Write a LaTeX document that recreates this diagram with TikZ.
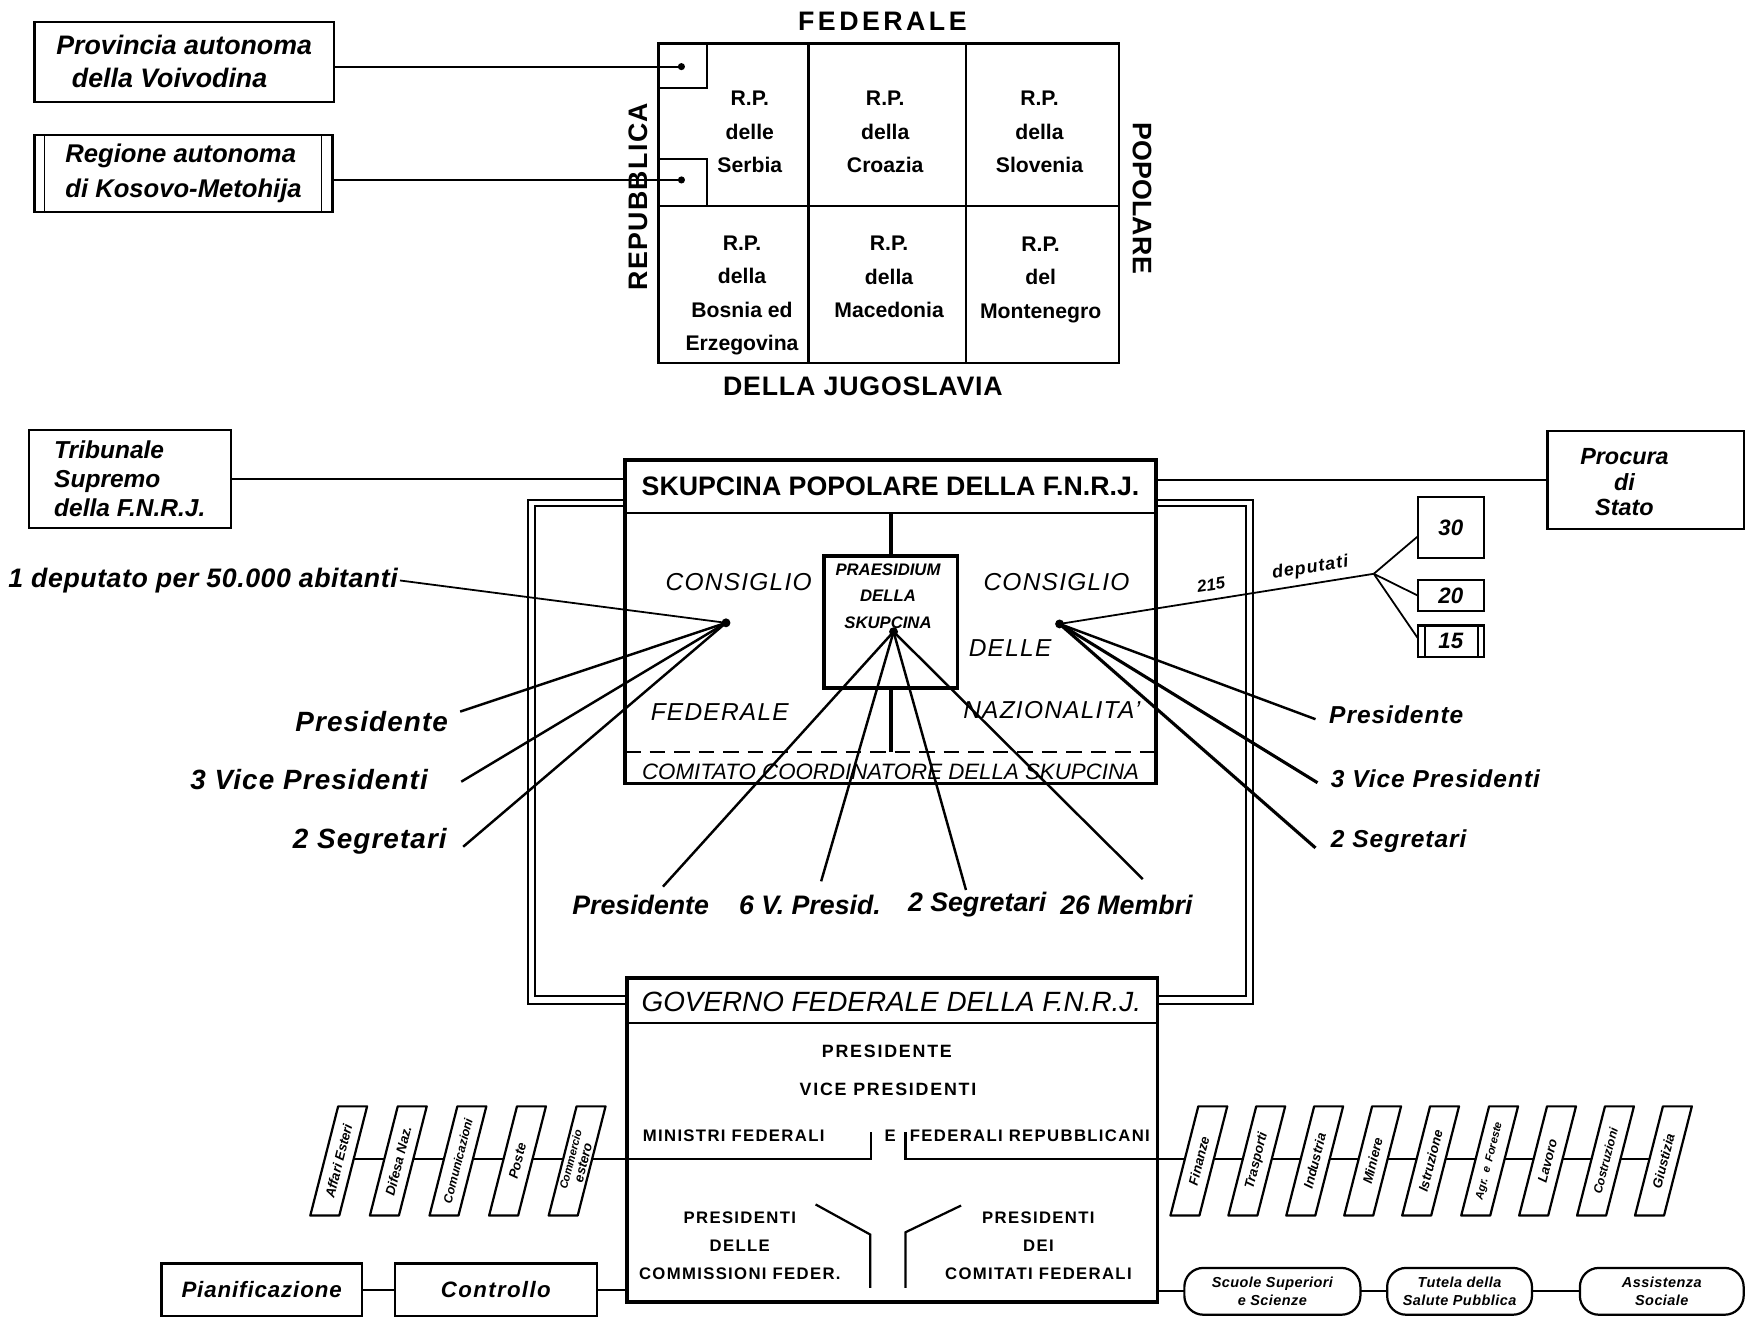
\documentclass[tikz,border=0pt]{standalone}
\usepackage{fontspec}
\setmainfont{Liberation Sans}
\usetikzlibrary{calc,backgrounds}
\newcommand{\fsz}[2]{\fontsize{#1pt}{#2pt}\selectfont}
\newcommand{\slbox}[4]{%
  \draw[sbox] (#2-25.5,#3+49) -- (#2+0.5,#3+49) -- (#2+25.5,#3-49) -- (#2-0.5,#3-49) -- cycle;
  \node[stxt] (#1) at (#2,#3) {#4};}
\begin{document}
\begin{tikzpicture}[x=1pt,y=-1pt,
  every node/.style={inner sep=0pt,outer sep=0pt},
  boxa/.style={draw,line width=2pt,fill=white},
  mainbox/.style={draw,line width=3pt},
  gridl/.style={line width=2pt},
  thinl/.style={line width=1.6pt},
  conn/.style={line width=1.6pt},
  mline/.style={line width=2.2pt},
  frame/.style={line width=1.8pt},
  sbox/.style={draw,line width=2pt,fill=white,line join=round},
  stxt/.style={rotate=75.7,align=center,font={\fsz{12}{12}\bfseries\itshape}},
  capbig/.style={font={\fsz{24}{28}\bfseries}},
  cellt/.style={align=center,font={\fsz{19}{30}\bfseries}},
  hand/.style={font={\fsz{24}{30}\bfseries\itshape}},
  lab/.style={font={\fsz{25}{30}\bfseries\itshape\addfontfeature{LetterSpace=4}}},
  labr/.style={font={\fsz{22}{26}\bfseries\itshape\addfontfeature{LetterSpace=4}}},
  labb/.style={font={\fsz{24}{28}\bfseries\itshape}},
  cons/.style={font={\fsz{22}{26}\itshape\addfontfeature{LetterSpace=5}}},
  gcap/.style={font={\fsz{15}{25}\bfseries\addfontfeature{LetterSpace=8}},align=center},
  oval/.style={draw,line width=2pt,rounded corners=17pt,align=center,fill=white,
    font={\fsz{13}{16}\bfseries\itshape\addfontfeature{LetterSpace=3}}},
  dot/.style={fill=black}
]
\useasboundingbox (0,0) rectangle (1568,1183);
\begin{scope}[on background layer]
  \fill[white] (0,0) rectangle (1568,1183);
\end{scope}

% ---------------- top: federal grid ----------------
\node[capbig,font={\fsz{24}{28}\bfseries\addfontfeature{LetterSpace=13}}] (tfed) at (792,19.5) {FEDERALE};
\node[capbig,font={\fsz{24}{28}\bfseries\addfontfeature{LetterSpace=3}}] (tjug) at (774.5,347) {DELLA JUGOSLAVIA};
\node[capbig,rotate=90,font={\fsz{24}{28}\bfseries\addfontfeature{LetterSpace=5}}] (trep) at (572.5,176.5) {REPUBBLICA};
\node[capbig,rotate=-90,font={\fsz{24}{28}\bfseries\addfontfeature{LetterSpace=1}}] (tpop) at (1025,177.7) {POPOLARE};

\draw[gridl] (591,39) rectangle (1004,326);
\draw[gridl] (725.7,39) -- (725.7,326) (867,39) -- (867,326) (591,185) -- (1004,185);
\draw[thinl] (591,79.3) -| (634.3,39);
\draw[thinl] (591,143) -| (634.3,185);
\coordinate (dA) at (611.6,59.8);
\coordinate (dB) at (611.6,161.5);

\node[cellt] (serbia) at (673,118.5) {R.P.\\delle\\Serbia};
\node[cellt] (croazia) at (794.5,118.5) {R.P.\\della\\Croazia};
\node[cellt] (slovenia) at (933,118.5) {R.P.\\della\\Slovenia};
\node[cellt] (bosnia) at (666,265) {R.P.\\della\\Bosnia ed\\Erzegovina};
\node[cellt] (maced) at (798,248.5) {R.P.\\della\\Macedonia};
\node[cellt] (monte) at (934,251) {R.P.\\del\\Montenegro};

\node[boxa,hand,align=left,minimum width=268.6pt,minimum height=72pt] (prov) at (165.3,55.4)
  {Provincia autonoma\\\hspace*{14pt}della Voivodina};
\node[boxa,hand,align=left,minimum width=267.5pt,minimum height=69pt,
  font={\fsz{23}{31}\bfseries\itshape}] (kos) at (164.75,155.5)
  {Regione autonoma\\di Kosovo-Metohija};
\draw[thinl] ([xshift=9pt]kos.north west) -- ([xshift=9pt]kos.south west);
\draw[thinl] ([xshift=-10pt]kos.north east) -- ([xshift=-10pt]kos.south east);
\draw[conn] (prov.east |- dA) -- (dA);
\draw[conn] (kos.east |- dB) -- (dB);
\fill[dot] (dA) circle (3.2pt);
\fill[dot] (dB) circle (3.2pt);

% ---------------- Skupcina ----------------
\node[mainbox,minimum width=476.6pt,minimum height=290pt] (skup) at (799.3,558) {};
\draw[gridl] (skup.west |- 0,460.6) -- (skup.east |- 0,460.6);
\node[font={\fsz{24}{28}\bfseries}] (skupt) at (799.3,436.8) {SKUPCINA POPOLARE DELLA F.N.R.J.};
\draw[line width=2pt,dash pattern=on 14pt off 8pt] (skup.west |- 0,674.6) -- (skup.east |- 0,674.6);
\node[font={\fsz{20}{24}\itshape}] (comit) at (799.3,692.6) {COMITATO COORDINATORE DELLA SKUPCINA};

\node[mainbox,minimum width=120pt,minimum height=118.7pt] (praes) at (799.6,558.3) {};
\node[align=center,font={\fsz{15}{23.5}\bfseries\itshape}] (praest) at (797,535) {PRAESIDIUM\\DELLA\\SKUPCINA};
\draw[line width=3.5pt] (praes.north |- 0,460.6) -- (praes.north);
\draw[line width=3.5pt] (praes.south) -- (praes.south |- 0,674.6);

\node[cons] (consl) at (663,522) {CONSIGLIO};
\node[cons] (fedl) at (646,638.7) {FEDERALE};
\node[cons] (consr) at (948.3,522) {CONSIGLIO};
\node[cons] (delle) at (906.6,581.7) {DELLE};
\node[cons] (naz) at (944,637) {NAZIONALITA'};

% frame linking Skupcina and Governo
\coordinate (fLo) at (474,448.5);
\coordinate (fLi) at (480.5,454);
\coordinate (fRo) at (1125,448.5);
\coordinate (fRi) at (1118,454);

% ---------------- Tribunale / Procura ----------------
\node[boxa,align=left,minimum width=181pt,minimum height=88pt,
  font={\fsz{22}{26}\bfseries\itshape}] (trib) at (116.5,430) {Tribunale\\Supremo\\della F.N.R.J.};
\node[boxa,minimum width=176pt,minimum height=88pt] (proc) at (1477,431) {};
\node[align=center,font={\fsz{21}{23}\bfseries\itshape}] (proct) at (1458,433) {Procura\\di\\Stato};
\draw[conn] (trib.east) -- (trib.east -| skup.west);
\draw[conn] (proc.west) -- (proc.west -| skup.east);

% ---------------- Governo ----------------
\node[mainbox,minimum width=476pt,minimum height=290.7pt] (govt) at (800.6,1023.2) {};
\draw[gridl] (govt.west |- 0,918) -- (govt.east |- 0,918);
\node[font={\fsz{25}{28}\itshape}] (govtt) at (800,899) {GOVERNO FEDERALE DELLA F.N.R.J.};
\node[gcap,font={\fsz{16}{20}\bfseries\addfontfeature{LetterSpace=10}}] (gpres) at (796,944) {PRESIDENTE};
\node[gcap,font={\fsz{16}{20}\bfseries\addfontfeature{LetterSpace=10}}] (gvice) at (797,978) {VICE PRESIDENTI};
\node[gcap,anchor=west] (gmin) at (577,1019) {MINISTRI FEDERALI};
\node[gcap] (ge) at (799,1019) {E};
\node[gcap,anchor=east] (gfr) at (1032,1019) {FEDERALI REPUBBLICANI};
\draw[gridl] (govt.west |- 0,1040) -- (782,1040) -- (782,1016);
\draw[gridl] (812.7,1016) -- (812.7,1040) -- (govt.east |- 0,1040);
\draw[gridl] (732,1081) -- (781,1108) -- (781,1156);
\draw[gridl] (862.6,1082) -- (812.7,1106) -- (812.7,1156);
\node[gcap] (gpc) at (664,1118) {PRESIDENTI\\DELLE\\COMMISSIONI FEDER.};
\node[gcap] (gpd) at (932,1118) {PRESIDENTI\\DEI\\COMITATI FEDERALI};

% frame lines (double)
\draw[frame] (skup.west |- fLo) -- (fLo) -- (fLo |- 0,901) -- (govt.west |- 0,901);
\draw[frame] (skup.west |- fLi) -- (fLi) -- (fLi |- 0,894) -- (govt.west |- 0,894);
\draw[frame] (skup.east |- fRo) -- (fRo) -- (fRo |- 0,901) -- (govt.east |- 0,901);
\draw[frame] (skup.east |- fRi) -- (fRi) -- (fRi |- 0,894) -- (govt.east |- 0,894);

% ---------------- Council lines ----------------
\coordinate (dl) at (651.6,559);
\coordinate (dr) at (951,560);
\coordinate (dp) at (802,567);

\node[lab,anchor=east,font={\fsz{24}{28}\bfseries\itshape\addfontfeature{LetterSpace=2}}] (ldep) at (357,521) {1 deputato per 50.000 abitanti};
\node[lab,anchor=east] (lpres) at (402,647.7) {Presidente};
\node[lab,anchor=east] (lvice) at (384,700) {3 Vice Presidenti};
\node[lab,anchor=east] (lseg) at (401,755) {2 Segretari};
\coordinate (le0) at (359,521);
\coordinate (le1) at (413,638.7);
\coordinate (le2) at (414,701.6);
\coordinate (le3) at (415.7,760);
\draw[conn] (le0) -- (dl);
\draw[mline] (dl) -- (le1);
\draw[mline] (dl) -- (le2);
\draw[mline] (dl) -- (le3);

\node[labr,anchor=west] (rpres) at (1193,641.7) {Presidente};
\node[labr,anchor=west] (rvice) at (1194.6,698.6) {3 Vice Presidenti};
\node[labr,anchor=west] (rseg) at (1194.6,755) {2 Segretari};
\coordinate (re1) at (1180.7,645.5);
\coordinate (re2) at (1182.5,702.5);
\coordinate (re3) at (1180.7,761);
\draw[mline] (dr) -- (re1);
\draw[mline,line width=2.8pt] (dr) -- (re2);
\draw[mline,line width=2.8pt] (dr) -- (re3);

\node[labb] (bpres) at (575,812) {Presidente};
\node[labb] (bvice) at (727,812) {6 V. Presid.};
\node[labb] (bseg) at (877,812) {2 Segretari};
\node[labb] (bmem) at (1011,812) {26 Membri};
\coordinate (be1) at (595,795.8);
\coordinate (be2) at (737,791);
\coordinate (be3) at (867,798.8);
\coordinate (be4) at (1025.7,789);
\draw[mline] (dp) -- (be1);
\draw[mline] (dp) -- (be2);
\draw[mline] (dp) -- (be3);
\draw[mline] (dp) -- (be4);

% 215 deputati
\coordinate (br) at (1233,515);
\node[draw,line width=2pt,minimum width=59.6pt,minimum height=55pt,font={\fsz{20}{24}\bfseries\itshape}] (b30) at (1302.2,473.5) {30};
\node[draw,line width=2pt,minimum width=59.6pt,minimum height=27.8pt,font={\fsz{20}{24}\bfseries\itshape}] (b20) at (1302.2,534.5) {20};
\node[draw,line width=2pt,minimum width=59.6pt,minimum height=28.2pt,font={\fsz{20}{24}\bfseries\itshape}] (b15) at (1302.2,575.6) {15};
\draw[thinl] ([xshift=6.5pt]b15.north west) -- ([xshift=6.5pt]b15.south west);
\draw[thinl] ([xshift=-5.5pt]b15.north east) -- ([xshift=-5.5pt]b15.south east);
\draw[conn] (dr) -- (br);
\draw[conn] (br) -- ($(b30.west)+(0,8)$);
\draw[conn] (br) -- (b20.west);
\draw[conn] (br) -- ($(b15.west)+(0,-3)$);
\node[rotate=9,font={\fsz{15}{18}\bfseries\itshape}] (n215) at (1087,525) {215};
\node[rotate=9,font={\fsz{16}{18}\bfseries\itshape\addfontfeature{LetterSpace=6}}] (ndep) at (1176,510) {deputati};

\fill[dot] (dl) circle (4pt);
\fill[dot] (dr) circle (4pt);
\fill[dot] (dp) circle (4pt);

% ---------------- ministries (slanted) ----------------
\begin{scope}[on background layer]
  \draw[conn] (304,1040) -- (govt.west |- 0,1040);
  \draw[conn] (govt.east |- 0,1040) -- (1493,1040);
\end{scope}
\slbox{m1}{304}{1042}{Affari Esteri}
\slbox{m2}{357.5}{1042}{Difesa Naz.}
\slbox{m3}{411}{1042}{\fsz{11}{11}Comunicazioni}
\slbox{m4}{464.5}{1042}{Poste}
\slbox{m5}{518}{1042}{\fsz{10}{11}Commercio\\estero}
\slbox{n1}{1076}{1042}{Finanze}
\slbox{n2}{1128}{1042}{Trasporti}
\slbox{n3}{1180}{1042}{Industria}
\slbox{n4}{1232}{1042}{Miniere}
\slbox{n5}{1284}{1042}{Istruzione}
\slbox{n6}{1337}{1042}{\fsz{10}{11}Agr.\hspace{5pt}e\hspace{5pt}Foreste}
\slbox{n7}{1389}{1042}{Lavoro}
\slbox{n8}{1441}{1042}{\fsz{11}{11}Costruzioni}
\slbox{n9}{1493}{1042}{Giustizia}

% ---------------- bottom row ----------------
\node[boxa,minimum width=179.6pt,minimum height=47pt,font={\fsz{20}{24}\bfseries\itshape\addfontfeature{LetterSpace=4}}] (pian) at (234.8,1157.5) {Pianificazione};
\node[boxa,minimum width=181pt,minimum height=47pt,font={\fsz{20}{24}\bfseries\itshape\addfontfeature{LetterSpace=6}}] (cont) at (445,1157.5) {Controllo};
\draw[conn] (pian) -- (cont);
\draw[conn] (cont.east) -- (cont.east -| govt.west);

\node[oval,minimum width=158pt,minimum height=42pt] (sc) at (1142,1159) {Scuole Superiori\\e Scienze};
\node[oval,minimum width=130pt,minimum height=42pt] (tu) at (1310,1159) {Tutela della\\Salute Pubblica};
\node[oval,minimum width=147pt,minimum height=42pt] (as) at (1491.5,1159) {Assistenza\\Sociale};
\draw[conn] (govt.east |- sc.west) -- (sc.west);
\draw[conn] (sc) -- (tu);
\draw[conn] (tu) -- (as);
\end{tikzpicture}
\end{document}
